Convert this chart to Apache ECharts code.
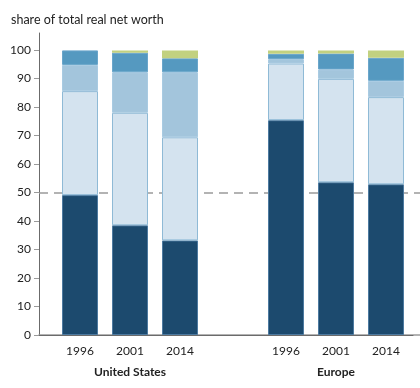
<!DOCTYPE html>
<html><head><meta charset="utf-8">
<script src="https://cdn.jsdelivr.net/npm/echarts@6/dist/echarts.min.js"></script>
<style>html,body{margin:0;padding:0;background:#fff}#c{width:420px;height:388px}</style>
</head><body><div id="c"></div>
<script>
const years = ['1996', '2001', '2014'];
const groups = ['United States', 'Europe'];
const yTicks = [0, 10, 20, 30, 40, 50, 60, 70, 80, 90, 100];
// stacked segments bottom to top
const usS1 = [49.1, 38.5, 33.2];
const usS2 = [36.5, 39.5, 36.2];
const usS3 = [9.2, 14.2, 22.8];
const usS4 = [5.1, 6.9, 4.9];
const usS5 = [0, 0.8, 2.8];
const euS1 = [75.4, 53.6, 52.9];
const euS2 = [19.9, 36.3, 30.6];
const euS3 = [1.5, 3.3, 5.7];
const euS4 = [1.9, 5.6, 8.1];
const euS5 = [1.2, 1.1, 2.6];
const refLine = 50;
const yMax = 106;

const colors = ['#1c4a6e', '#d4e3ef', '#a3c5dc', '#5599c0', '#c2d180'];
const borders = ['#4d7aa0', '#8fbad6', '#a9cbe2', '#6aa6cb', '#c2d180'];
const borderW = [1, 1, 1, 1, 0];
const FONT = 'Lato';

const chart = echarts.init(document.getElementById('c'), null, {renderer: 'canvas'});
const gTop = 33, gBottom = 53;
function bars(data, gi) {
  return data.map((d, k) => ({
    type: 'bar', stack: 'g' + gi, xAxisIndex: gi, yAxisIndex: gi, z: 5,
    barWidth: 36, data: d,
    itemStyle: {color: colors[k], borderColor: borders[k], borderWidth: borderW[k]},
    emphasis: {disabled: true}
  }));
}
const hiddenY = (gi) => ({type: 'value', gridIndex: gi, min: 0, max: yMax, show: false});
const groupX = (gi) => ({
  type: 'category', gridIndex: gi, data: years, boundaryGap: true,
  axisLine: {show: false}, axisTick: {show: false},
  axisLabel: {color: '#222', fontSize: 12, fontFamily: FONT, margin: 10},
  name: groups[gi - 2], nameLocation: 'middle', nameGap: 31,
  nameTextStyle: {color: '#222', fontSize: 12, fontWeight: 'bold', fontFamily: FONT}
});
chart.setOption({
  animation: false,
  title: {text: 'share of total real net worth', left: 6, top: 8,
    textStyle: {color: '#222', fontSize: 12.5, fontWeight: 'normal', fontFamily: FONT}},
  grid: [
    {left: 39, right: 0, top: gTop, bottom: gBottom},
    {left: 39, right: 7, top: gTop, bottom: gBottom},
    {left: 55, width: 150, top: gTop, bottom: gBottom},
    {left: 261, width: 150, top: gTop, bottom: gBottom}
  ],
  xAxis: [
    {type: 'category', gridIndex: 0, position: 'top', data: [''],
      axisLine: {lineStyle: {color: '#9a9a9a', width: 1.5}}, axisTick: {show: false}, axisLabel: {show: false}},
    {type: 'category', gridIndex: 1, position: 'bottom', data: [''],
      axisLine: {lineStyle: {color: '#6b6b6b', width: 1}}, axisTick: {show: false}, axisLabel: {show: false}},
    groupX(2), groupX(3)
  ],
  yAxis: [
    {type: 'value', gridIndex: 0, min: 0, max: yMax,
      axisLine: {show: true, lineStyle: {color: '#6b6b6b', width: 1}},
      axisTick: {show: true, length: 5, customValues: yTicks, lineStyle: {color: '#9a9a9a'}},
      splitLine: {show: false},
      axisLabel: {color: '#222', fontSize: 12, fontFamily: FONT, margin: 8, customValues: yTicks}},
    hiddenY(1), hiddenY(2), hiddenY(3)
  ],
  series: [
    {type: 'line', xAxisIndex: 0, yAxisIndex: 0, data: [], z: 1,
      markLine: {silent: true, symbol: 'none', label: {show: false},
        lineStyle: {color: '#9a9a9a', type: [9, 6], width: 1.5},
        data: [{yAxis: refLine}]}},
    ...bars([usS1, usS2, usS3, usS4, usS5], 2),
    ...bars([euS1, euS2, euS3, euS4, euS5], 3)
  ]
});
</script></body></html>
